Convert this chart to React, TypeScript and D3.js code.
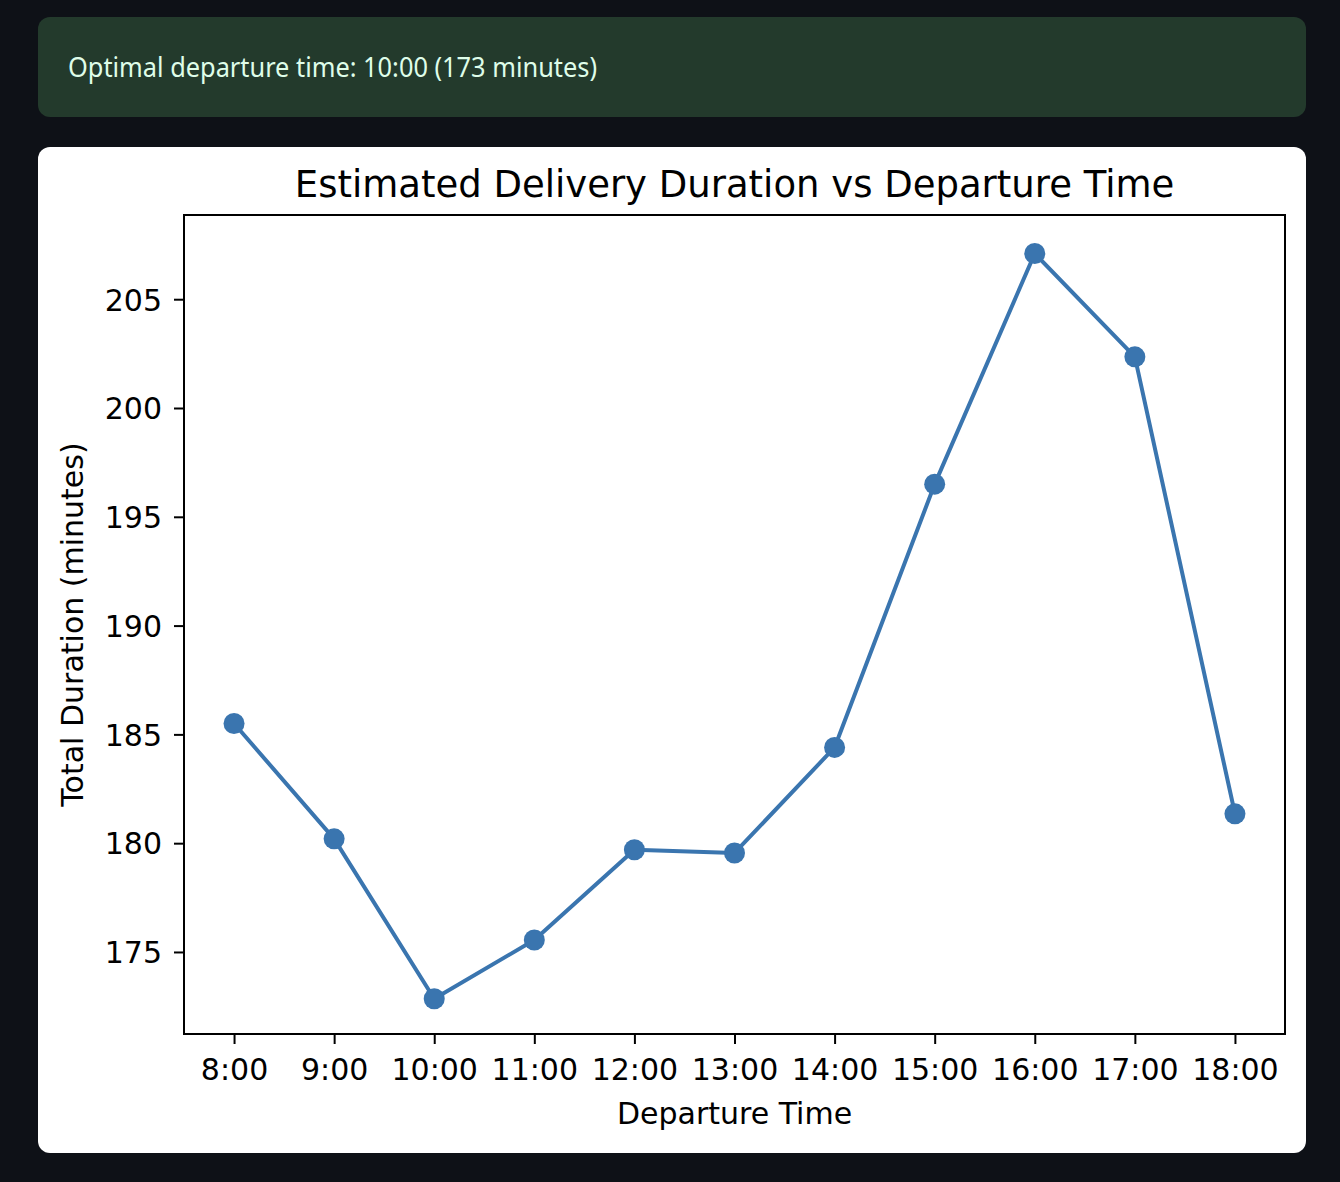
import React, { useRef, useEffect } from 'react';
import { select, scaleLinear, axisLeft, axisBottom, line } from 'd3';

const hours = ['8:00', '9:00', '10:00', '11:00', '12:00', '13:00', '14:00', '15:00', '16:00', '17:00', '18:00'];
const durations = [185.5, 180.2, 172.85, 175.55, 179.7, 179.55, 184.4, 196.5, 207.1, 202.35, 181.35];
const yTicks = [175, 180, 185, 190, 195, 200, 205];

const W = 1340;
const H = 1182;

const App: React.FC = () => {
  const svgRef = useRef<SVGSVGElement | null>(null);

  useEffect(() => {
    document.body.style.margin = '0';
    document.body.style.background = '#0e1117';
    if (!svgRef.current) return;
    const svg = select(svgRef.current);
    svg.selectAll('*').remove();

    svg.append('rect').attr('width', W).attr('height', H).attr('fill', '#0e1117');

    // success banner
    svg.append('rect')
      .attr('x', 38).attr('y', 17).attr('width', 1268).attr('height', 100)
      .attr('rx', 12).attr('fill', '#233a2c');
    svg.append('text')
      .attr('x', 68).attr('y', 77)
      .attr('font-family', '"Noto Sans", sans-serif')
      .attr('font-size', 27)
      .attr('fill', '#dffde9')
      .attr('textLength', 529)
      .attr('lengthAdjust', 'spacingAndGlyphs')
      .text('Optimal departure time: 10:00 (173 minutes)');

    // chart card
    svg.append('rect')
      .attr('x', 38).attr('y', 147).attr('width', 1268).attr('height', 1006)
      .attr('rx', 12).attr('fill', '#ffffff');

    const left = 184, right = 1285, top = 215, bottom = 1034;
    const font = '"DejaVu Sans", sans-serif';

    const x = scaleLinear().domain([-0.5, hours.length - 0.5]).range([left, right]);
    const y = scaleLinear().domain([171.23, 208.87]).range([bottom, top]);

    const g = svg.append('g').attr('font-family', font);

    const xAxis = axisBottom(x)
      .tickValues(hours.map((_, i) => i))
      .tickFormat(i => hours[i as number])
      .tickSize(10).tickPadding(15);
    const gx = g.append('g').attr('transform', `translate(0,${bottom})`).call(xAxis);
    gx.select('.domain').remove();
    gx.selectAll('.tick line').attr('stroke', '#000').attr('stroke-width', 2);
    gx.selectAll('.tick text').attr('font-size', 30).attr('font-family', font).attr('fill', '#000').attr('dy', '0.71em');

    const yAxis = axisLeft(y).tickValues(yTicks).tickSize(10).tickPadding(12);
    const gy = g.append('g').attr('transform', `translate(${left},0)`).call(yAxis);
    gy.select('.domain').remove();
    gy.selectAll('.tick line').attr('stroke', '#000').attr('stroke-width', 2);
    gy.selectAll('.tick text').attr('font-size', 30).attr('font-family', font).attr('fill', '#000').attr('dy', '0.36em');

    // frame
    g.append('rect')
      .attr('x', left).attr('y', top).attr('width', right - left).attr('height', bottom - top)
      .attr('fill', 'none').attr('stroke', '#000').attr('stroke-width', 2);

    const pts = durations.map((d, i) => [x(i), y(d)] as [number, number]);
    g.append('path')
      .attr('d', line()(pts) || '')
      .attr('fill', 'none')
      .attr('stroke', '#3a75af')
      .attr('stroke-width', 4)
      .attr('stroke-linejoin', 'round');

    g.selectAll('.dot')
      .data(durations)
      .enter()
      .append('circle')
      .attr('cx', (_, i) => x(i))
      .attr('cy', d => y(d))
      .attr('r', 10.5)
      .attr('fill', '#3a75af');

    g.append('text')
      .attr('x', (left + right) / 2).attr('y', 197)
      .attr('text-anchor', 'middle').attr('font-size', 37).attr('fill', '#000')
      .text('Estimated Delivery Duration vs Departure Time');

    g.append('text')
      .attr('x', (left + right) / 2).attr('y', 1124)
      .attr('text-anchor', 'middle').attr('font-size', 30).attr('fill', '#000')
      .text('Departure Time');

    g.append('text')
      .attr('transform', `translate(83,${(top + bottom) / 2}) rotate(-90)`)
      .attr('text-anchor', 'middle').attr('font-size', 30).attr('fill', '#000')
      .text('Total Duration (minutes)');
  }, []);

  return (
    <svg ref={svgRef} width={W} height={H} style={{ display: 'block', position: 'absolute', left: 0, top: 0 }} />
  );
};

export default App;
